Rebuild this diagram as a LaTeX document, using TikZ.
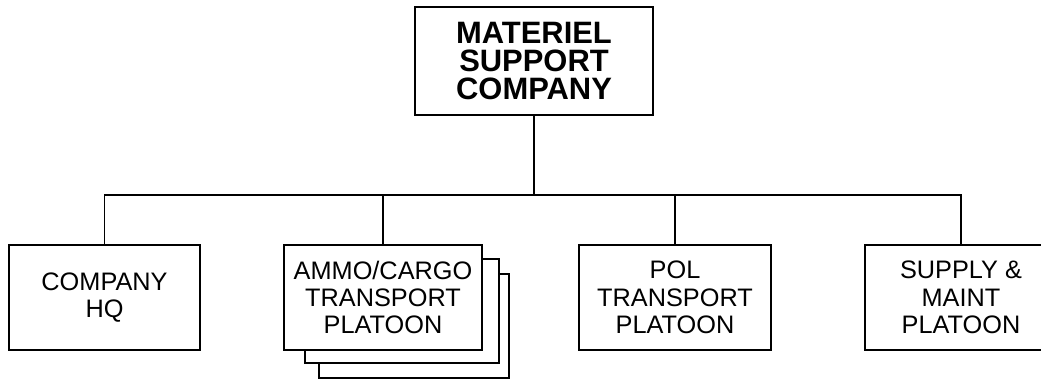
\documentclass[tikz,border=0pt]{standalone}
\usepackage{fontspec}
\setmainfont{Liberation Sans}
\usepackage{tikz}
\usetikzlibrary{calc}
\tikzset{
  unit/.style={draw, line width=1.1pt, fill=white, inner sep=0pt, align=center,
      minimum width=3.84cm, minimum height=2.1cm, font=\fontsize{14.4}{15.6}\selectfont},
  hqbox/.style={unit, font=\fontsize{17.6}{16}\selectfont\bfseries,
      minimum width=4.76cm, minimum height=2.16cm},
  link/.style={line width=1.1pt},
}

\begin{document}
\begin{tikzpicture}[x=0.02cm, y=-0.02cm]
  \useasboundingbox (0,0) rectangle (1041,380);
  % company
  \node[hqbox] (top) at (534,61) {MATERIEL\\SUPPORT\\COMPANY};
  % platoons
  \node[unit, minimum width=3.82cm] (hq) at (104.5,297.5) {COMPANY\\HQ};
  \node[unit, minimum width=3.8cm, minimum height=2.08cm] (ammoC) at (414,326) {};
  \node[unit, minimum width=3.88cm, minimum height=2.08cm] (ammoB) at (402,311) {};
  \node[unit, minimum width=3.96cm] (ammo) at (383,297.5) {AMMO/CARGO\\TRANSPORT\\PLATOON};
  \node[unit] (pol) at (675,297.5) {POL\\TRANSPORT\\PLATOON};
  \node[unit] (supply) at (961,297.5) {SUPPLY \&\\MAINT\\PLATOON};
  % lines
  \coordinate (bus) at (0,195);
  \draw[link] (top.south) -- (top.south |- bus);
  \draw[link] (hq.north) -- (hq.north |- bus) -- (supply.north |- bus) -- (supply.north);
  \foreach \n in {ammo, pol}
    \draw[link] (\n.north) -- (\n.north |- bus);
\end{tikzpicture}
\end{document}
